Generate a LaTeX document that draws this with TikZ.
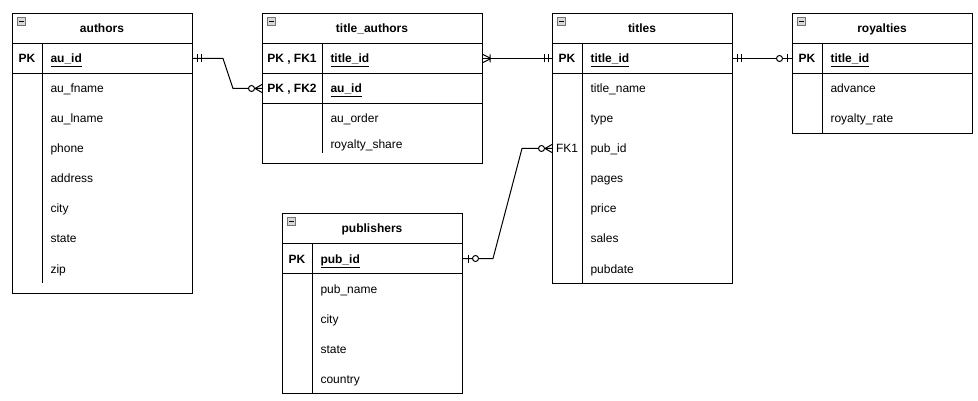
\documentclass[tikz,border=0pt]{standalone}
\usepackage{fontspec}
\setmainfont{Liberation Sans}
\usetikzlibrary{calc}
\begin{document}
\begin{tikzpicture}[x=1pt,y=-1pt,line width=1pt,
  font=\fontsize{12}{14}\selectfont,
  tbl/.style={draw, anchor=north west, inner sep=0pt},
  cell/.style={draw, anchor=north west, inner sep=0pt, minimum height=30pt},
  slot/.style={anchor=north west, inner sep=0pt, minimum height=30pt},
  hdr/.style={font=\fontsize{12}{14}\selectfont\bfseries, anchor=base, inner sep=0pt},
  keytxt/.style={font=\fontsize{12}{14}\selectfont\bfseries, anchor=base, inner sep=0pt},
  fktxt/.style={anchor=base, inner sep=0pt},
  fld/.style={anchor=base west, inner sep=0pt},
  pkfld/.style={font=\fontsize{12}{14}\selectfont\bfseries, anchor=base west, inner sep=0pt},
  icon/.style={draw=black!55, fill=black!15, line width=0.8pt, minimum size=7.5pt, inner sep=0pt,
    path picture={\draw[black, line width=1.2pt]
      ([xshift=1.5pt]path picture bounding box.west) -- ([xshift=-1.5pt]path picture bounding box.east);}},
  mandone/.pic={\draw (4,-4) -- (4,4) (8,-4) -- (8,4);},
  zeromany/.pic={\draw (0,-4) -- (7,0) -- (0,4);
                 \draw[fill=white] (10.5,0) circle[radius=3pt];},
  onemany/.pic={\draw (0,-4) -- (8,0) -- (0,4) (7,-4) -- (7,4);},
  zeroone/.pic={\draw (5,-4) -- (5,4);
                \draw[fill=white] (12.5,0) circle[radius=3pt];}
]
\useasboundingbox (0,0) rectangle (978,401);

% ---------- authors ----------
\node[tbl, minimum width=180pt, minimum height=280pt] (authors) at (12,13) {};
\node[icon] (authors-icon) at (21.5,21.5) {};
\node[hdr] (authors-name) at (102,33) {authors};
\node[cell, minimum width=180pt] (authors-pk) at (12,43) {};
\node[cell, minimum width=30pt] (authors-pkcol) at (12,43) {};
\node[keytxt] (authors-pkkey) at (27,63) {PK};
\node[pkfld] (authors-pkname) at (50,63) {\underline{au\_id}};
\draw (42,73) -- (42,283);
\foreach \f [count=\i] in {au\_fname,au\_lname,phone,address,city,state,zip}
  \node[fld] (authors-f\i) at (50,63+30*\i) {\f};

% ---------- title_authors ----------
\node[tbl, minimum width=220pt, minimum height=150pt] (ta) at (262,13) {};
\node[icon] (ta-icon) at (271.5,21.5) {};
\node[hdr] (ta-name) at (372,33) {title\_authors};
\node[cell, minimum width=220pt] (ta-pk1) at (262,43) {};
\node[cell, minimum width=60pt] (ta-pk1col) at (262,43) {};
\node[keytxt] (ta-pk1key) at (292,63) {PK , FK1};
\node[pkfld] (ta-pk1name) at (330,63) {\underline{title\_id}};
\node[cell, minimum width=220pt] (ta-pk2) at (262,73) {};
\node[cell, minimum width=60pt] (ta-pk2col) at (262,73) {};
\node[keytxt] (ta-pk2key) at (292,93) {PK , FK2};
\node[pkfld] (ta-pk2name) at (330,93) {\underline{au\_id}};
\draw (322,103) -- (322,153);
\node[fld] (ta-f1) at (330,123) {au\_order};
\node[fld] (ta-f2) at (330,148.3) {royalty\_share};

% ---------- titles ----------
\node[tbl, minimum width=180pt, minimum height=270pt] (titles) at (552,13) {};
\node[icon] (titles-icon) at (561.5,21.5) {};
\node[hdr] (titles-name) at (642,33) {titles};
\node[cell, minimum width=180pt] (titles-pk) at (552,43) {};
\node[cell, minimum width=30pt] (titles-pkcol) at (552,43) {};
\node[keytxt] (titles-pkkey) at (567,63) {PK};
\node[pkfld] (titles-pkname) at (590,63) {\underline{title\_id}};
\draw (582,73) -- (582,283);
\foreach \f [count=\i] in {title\_name,type,pub\_id,pages,price,sales,pubdate}
  \node[fld] (titles-f\i) at (590,63+30*\i) {\f};
\node[slot, minimum width=180pt] (titles-pubid) at (552,133) {};
\node[fktxt] (titles-fk1) at (567,153) {FK1};

% ---------- royalties ----------
\node[tbl, minimum width=180pt, minimum height=120pt] (roy) at (792,13) {};
\node[icon] (roy-icon) at (801.5,21.5) {};
\node[hdr] (roy-name) at (882,33) {royalties};
\node[cell, minimum width=180pt] (roy-pk) at (792,43) {};
\node[cell, minimum width=30pt] (roy-pkcol) at (792,43) {};
\node[keytxt] (roy-pkkey) at (807,63) {PK};
\node[pkfld] (roy-pkname) at (830,63) {\underline{title\_id}};
\draw (822,73) -- (822,133);
\node[fld] (roy-f1) at (830,93) {advance};
\node[fld] (roy-f2) at (830,123) {royalty\_rate};

% ---------- publishers ----------
\node[tbl, minimum width=180pt, minimum height=180pt] (pub) at (282,213) {};
\node[icon] (pub-icon) at (291.5,221.5) {};
\node[hdr] (pub-name) at (372,233) {publishers};
\node[cell, minimum width=180pt] (pub-pk) at (282,243) {};
\node[cell, minimum width=30pt] (pub-pkcol) at (282,243) {};
\node[keytxt] (pub-pkkey) at (297,263) {PK};
\node[pkfld] (pub-pkname) at (320,263) {\underline{pub\_id}};
\draw (312,273) -- (312,393);
\foreach \f [count=\i] in {pub\_name,city,state,country}
  \node[fld] (pub-f\i) at (320,263+30*\i) {\f};

% ---------- relationships ----------
\draw (authors-pk.east) -- ++(30,0) -- ($(ta-pk2.west)+(-29,0)$) -- (ta-pk2.west);
\pic at (authors-pk.east) {mandone};
\pic[rotate=180] at (ta-pk2.west) {zeromany};

\draw (ta-pk1.east) -- (titles-pk.west);
\pic at (ta-pk1.east) {onemany};
\pic[rotate=180] at (titles-pk.west) {mandone};

\draw (titles-pk.east) -- (roy-pk.west);
\pic at (titles-pk.east) {mandone};
\pic[rotate=180] at (roy-pk.west) {zeroone};

\draw (pub-pk.east) -- ++(30,0) -- ($(titles-pubid.west)+(-30,0)$) -- (titles-pubid.west);
\pic at (pub-pk.east) {zeroone};
\pic[rotate=180] at (titles-pubid.west) {zeromany};
\end{tikzpicture}
\end{document}
